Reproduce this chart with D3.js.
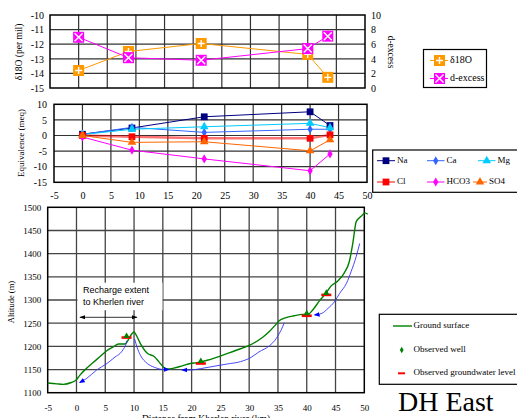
<!DOCTYPE html>
<html><head><meta charset="utf-8">
<script src="https://cdn.jsdelivr.net/npm/d3@7"></script>
<style>
body{margin:0;background:#fff}
svg{display:block}
text{fill:#000}
</style>
</head><body>
<svg id="c" width="517" height="418" font-family="Liberation Serif, Times New Roman, serif"></svg>
<script>
// ---------- DATA ----------
const isoDist = [0, 8.7, 21.4, 40, 43.5];
const d18O = [-13.8, -12.5, -11.95, -12.7, -14.27];
const dExcess = [6.95, 4.15, 3.8, 5.4, 7.1];

const chemDist = [0, 8.7, 21.4, 40, 43.5];
const Na = [0.4, 2.4, 6.0, 7.6, 3.2];
const Ca = [0.4, 2.6, 1.0, 2.0, 2.0];
const Mg = [0.3, 2.0, 2.8, 3.9, 2.5];
const Cl = [0, -0.4, -0.9, -0.9, 0.2];
const HCO3 = [-0.5, -4.7, -7.5, -11.3, -5.9];
const SO4 = [0, -2.2, -2.0, -4.9, -1.4];

const groundDist = [-5, -3.4, -2.3, -0.9, -0.1, 0.6, 1.7, 2.9, 4.1, 5.2, 6.4, 7.3, 8.4, 9.0, 9.3, 10, 10.2, 11.1, 12.3, 13.5, 14.3, 15.2, 15.8, 16.9, 18.4, 19.8, 21.0, 22.7, 25.0, 27.4, 30.0, 32.3, 33.5, 34.7, 35.2, 36.4, 37.8, 39.3, 40.2, 41.0, 42.2, 43.4, 44.2, 45.4, 46.5, 47.4, 48.0, 48.6, 49.5, 50.1, 50.6];
const groundAlt = [1121, 1119, 1118, 1122, 1127, 1138, 1152, 1165, 1178, 1190, 1199, 1205, 1205, 1214, 1221, 1231, 1228, 1206, 1185, 1178, 1167, 1154, 1151, 1153, 1158, 1163, 1165, 1170, 1179, 1190, 1202, 1219, 1232, 1248, 1255, 1262, 1266, 1269, 1269, 1278, 1298, 1316, 1330, 1341, 1358, 1383, 1422, 1469, 1481, 1488, 1485];

const gw1Dist = [0.6, 1.8, 3.5, 5.3, 6.7, 7.6, 8.2, 8.6, 8.75];
const gw1Alt = [1122, 1131, 1149, 1163, 1177, 1185, 1195, 1205, 1212];
const gw2Dist = [10.1, 10.5, 11.1, 12.3, 13.5, 15.2, 16.0];
const gw2Alt = [1216, 1199, 1181, 1163, 1155, 1150, 1150];
const gw3Dist = [18.4, 19.8, 21.6, 23.9, 26.2, 28.5, 30.3, 31.7, 33.5, 34.7, 35.8, 36.1];
const gw3Alt = [1149, 1149, 1152, 1157, 1162, 1167, 1176, 1188, 1201, 1217, 1242, 1251];
const gw4Dist = [41.4, 42.6, 43.7, 44.8, 45.7, 46.9, 47.7, 48.6, 49.2];
const gw4Alt = [1268, 1271, 1282, 1296, 1314, 1336, 1361, 1394, 1422];

const wellDist = [8.7, 21.6, 40, 43.4];
const wellAlt = [1222, 1168, 1271, 1315];
const gwlAlt = [1219, 1163, 1266, 1311];

const isoTicksL = [-15, -14, -13, -12, -11, -10];
const isoTicksR = [0, 2, 4, 6, 8, 10];
const chemTicksY = [-15, -10, -5, 0, 5, 10];
const distTicks = [-5, 0, 5, 10, 15, 20, 25, 30, 35, 40, 45, 50];
const altTicks = [1100, 1150, 1200, 1250, 1300, 1350, 1400, 1450, 1500];

// ---------- HELPERS ----------
const svg = d3.select("#c");
const SERIF = "Liberation Serif, Times New Roman, serif";
const SANS = "Liberation Sans, Arial, sans-serif";
const fmt = d => String(d);
function grid(g, xs, ys, x, y, col, w) {
  const x0 = x.range()[0], x1 = x.range()[1], y0 = y.range()[0], y1 = y.range()[1];
  g.selectAll(null).data(xs).join("line")
    .attr("x1", d => x(d)).attr("x2", d => x(d)).attr("y1", y0).attr("y2", y1)
    .attr("stroke", col).attr("stroke-width", w);
  g.selectAll(null).data(ys).join("line")
    .attr("y1", d => y(d)).attr("y2", d => y(d)).attr("x1", x0).attr("x2", x1)
    .attr("stroke", col).attr("stroke-width", w);
}
function frame(g, x, y) {
  const [x0, x1] = x.range(), [y0, y1] = y.range();
  g.append("rect").attr("x", x0).attr("y", y1).attr("width", x1 - x0).attr("height", y0 - y1)
    .attr("fill", "none").attr("stroke", "#000").attr("stroke-width", 1.5);
}
function styleAxis(a, size) {
  a.select(".domain").remove();
  a.attr("font-family", SERIF).attr("font-size", size);
  a.selectAll("text").attr("fill", "#000");
}
function marker(g, kind, cx, cy, col) {
  const s = g.append("g").attr("transform", `translate(${cx},${cy})`);
  if (kind === "sqPlus" || kind === "sqX") {
    s.append("rect").attr("x", -5.5).attr("y", -5.5).attr("width", 11).attr("height", 11).attr("fill", col);
    if (kind === "sqPlus") s.append("path").attr("d", "M-3.5,0H3.5M0,-3.5V3.5").attr("stroke", "#fff").attr("stroke-width", 1.4);
    else s.append("path").attr("d", "M-4,-4L4,4M-4,4L4,-4").attr("stroke", "#fff").attr("stroke-width", 1.4);
  } else {
    const map = {square: d3.symbolSquare, diamond: d3.symbolDiamond, triangle: d3.symbolTriangle};
    const sizes = {square: 46, diamond: 24, triangle: 32};
    s.append("path").attr("d", d3.symbol(map[kind], sizes[kind])()).attr("fill", col);
  }
}

// ---------- TOP: isotopes ----------
const tx = d3.scaleLinear().domain([-5, 50]).range([50, 365]);
const tyL = d3.scaleLinear().domain([-15, -10]).range([88, 15]);
const tyR = d3.scaleLinear().domain([0, 10]).range([88, 15]);
const gTop = svg.append("g");
grid(gTop, d3.range(0, 50, 5), [-14, -13, -12, -11], tx, tyL, "#333", 1.2);
frame(gTop, tx, tyL);
styleAxis(gTop.append("g").attr("transform", "translate(50,0)")
  .call(d3.axisLeft(tyL).tickValues(isoTicksL).tickSize(0).tickPadding(6).tickFormat(fmt)), "10px");
styleAxis(gTop.append("g").attr("transform", "translate(365,0)")
  .call(d3.axisRight(tyR).tickValues(isoTicksR).tickSize(0).tickPadding(6).tickFormat(fmt)), "10px");
gTop.append("text").attr("transform", "translate(20,52) rotate(-90)").attr("text-anchor", "middle")
  .attr("dominant-baseline", "middle").attr("font-size", "9.5px").text("δ18O (per mil)");
gTop.append("text").attr("transform", "translate(390,52) rotate(90)").attr("text-anchor", "middle")
  .attr("dominant-baseline", "middle").attr("font-size", "9.5px").text("d-excess");
const isoLine = (ys, sc) => d3.line().x((d, i) => tx(isoDist[i])).y((d, i) => sc(ys[i]))(ys);
gTop.append("path").attr("d", isoLine(d18O, tyL)).attr("fill", "none").attr("stroke", "#ff9900").attr("stroke-width", 1);
gTop.append("path").attr("d", isoLine(dExcess, tyR)).attr("fill", "none").attr("stroke", "#ff00ff").attr("stroke-width", 1);
d18O.forEach((v, i) => marker(gTop, "sqPlus", tx(isoDist[i]), tyL(v), "#ff9900"));
dExcess.forEach((v, i) => marker(gTop, "sqX", tx(isoDist[i]), tyR(v), "#ff00ff"));
// legend
const lgT = svg.append("g");
lgT.append("rect").attr("x", 423.5).attr("y", 49.5).attr("width", 63).attr("height", 38)
  .attr("fill", "#fff").attr("stroke", "#000").attr("stroke-width", 1.2);
[["δ18O", "#ff9900", "sqPlus", 60.5], ["d-excess", "#ff00ff", "sqX", 78.5]].forEach(([t, c, k, y]) => {
  lgT.append("line").attr("x1", 430).attr("x2", 448).attr("y1", y).attr("y2", y).attr("stroke", c);
  marker(lgT, k, 439.5, y, c);
  lgT.append("text").attr("x", 450).attr("y", y).attr("dominant-baseline", "middle").attr("font-size", "10px").text(t);
});

// ---------- MIDDLE: chemistry ----------
const mx = d3.scaleLinear().domain([-5, 50]).range([54, 367]);
const my = d3.scaleLinear().domain([-15, 10]).range([182.3, 104.3]);
const gMid = svg.append("g");
grid(gMid, d3.range(0, 50, 5), [-10, -5, 0, 5], mx, my, "#333", 1.2);
frame(gMid, mx, my);
styleAxis(gMid.append("g").attr("transform", "translate(54,0)")
  .call(d3.axisLeft(my).tickValues(chemTicksY).tickSize(0).tickPadding(7).tickFormat(fmt)), "10px");
styleAxis(gMid.append("g").attr("transform", "translate(0,182.3)")
  .call(d3.axisBottom(mx).tickValues(distTicks).tickSize(0).tickPadding(10).tickFormat(fmt)), "10px");
gMid.append("text").attr("transform", "translate(22,143) rotate(-90)").attr("text-anchor", "middle")
  .attr("dominant-baseline", "middle").attr("font-size", "9px").text("Equivalence (meq)");
const chem = [
  {name: "Na", vals: Na, col: "#000080", kind: "square", w: 1},
  {name: "Ca", vals: Ca, col: "#3366ff", kind: "diamond", w: 1},
  {name: "Mg", vals: Mg, col: "#00ccff", kind: "triangle", w: 1},
  {name: "Cl", vals: Cl, col: "#ff0000", kind: "square", w: 2.5},
  {name: "HCO3", vals: HCO3, col: "#ff00ff", kind: "diamond", w: 1},
  {name: "SO4", vals: SO4, col: "#ff6600", kind: "triangle", w: 1}
];
chem.forEach(s => {
  gMid.append("path").attr("d", d3.line().x((d, i) => mx(chemDist[i])).y(d => my(d))(s.vals))
    .attr("fill", "none").attr("stroke", s.col).attr("stroke-width", s.w).attr("stroke-opacity", s.name === "Cl" ? 0.55 : 1);
});
chem.forEach(s => s.vals.forEach((v, i) => marker(gMid, s.kind, mx(chemDist[i]), my(v), s.col)));
// legend
const lgM = svg.append("g");
lgM.append("rect").attr("x", 372.7).attr("y", 150).attr("width", 150).attr("height", 42.3)
  .attr("fill", "#fff").attr("stroke", "#000").attr("stroke-width", 1.2);
const legPos = [[377, 397, 160.7], [427, 446.5, 160.7], [478, 497.5, 160.7], [377, 397, 182], [427, 446.5, 182], [473, 489, 182]];
chem.forEach((s, i) => {
  const [x0, tx0, y] = legPos[i];
  lgM.append("line").attr("x1", x0).attr("x2", tx0 - 2).attr("y1", y).attr("y2", y).attr("stroke", s.col).attr("stroke-width", 1);
  marker(lgM, s.kind, (x0 + tx0 - 2) / 2, y, s.col);
  lgM.append("text").attr("x", tx0).attr("y", y).attr("dominant-baseline", "middle").attr("font-size", "9px").text(s.name);
});

// ---------- BOTTOM: profile ----------
const bx = d3.scaleLinear().domain([-5, 50]).range([47.7, 364.3]);
const by = d3.scaleLinear().domain([1100, 1500]).range([392.7, 207.3]);
const gBot = svg.append("g");
grid(gBot, d3.range(0, 50, 5), d3.range(1150, 1500, 50), bx, by, "#444", 1.3);
// annotation box hides grid
gBot.append("rect").attr("x", 77.5).attr("y", 282.7).attr("width", 85).attr("height", 27.5).attr("fill", "#fff");
frame(gBot, bx, by);
styleAxis(gBot.append("g").attr("transform", "translate(47.7,0)")
  .call(d3.axisLeft(by).tickValues(altTicks).tickSize(0).tickPadding(6.5).tickFormat(fmt)), "9px");
styleAxis(gBot.append("g").attr("transform", "translate(0,392.7)")
  .call(d3.axisBottom(bx).tickValues(distTicks).tickSize(0).tickPadding(12).tickFormat(fmt)), "9px");
gBot.append("text").attr("transform", "translate(12,302) rotate(-90)").attr("text-anchor", "middle")
  .attr("dominant-baseline", "middle").attr("font-size", "8.5px").text("Altitude (m)");
gBot.append("text").attr("x", 206).attr("y", 422).attr("text-anchor", "middle").attr("font-size", "9.5px")
  .text("Distance from Kherlen river (km)");

const defs = svg.append("defs");
defs.append("marker").attr("id", "ab").attr("viewBox", "0 0 10 10").attr("refX", 8).attr("refY", 5)
  .attr("markerWidth", 6).attr("markerHeight", 6).attr("markerUnits", "userSpaceOnUse").attr("orient", "auto-start-reverse")
  .append("path").attr("d", "M0,1L10,5L0,9Z").attr("fill", "#0000ff");
defs.append("marker").attr("id", "ak").attr("viewBox", "0 0 10 10").attr("refX", 9).attr("refY", 5)
  .attr("markerWidth", 6).attr("markerHeight", 6).attr("markerUnits", "userSpaceOnUse").attr("orient", "auto-start-reverse")
  .append("path").attr("d", "M0,1.5L10,5L0,8.5Z").attr("fill", "#000");

const pline = (xs, ys) => d3.line().curve(d3.curveMonotoneX).x((d, i) => bx(xs[i])).y((d, i) => by(ys[i]))(xs);
gBot.append("path").attr("d", pline(groundDist, groundAlt)).attr("fill", "none").attr("stroke", "#008000").attr("stroke-width", 1.4);
[[gw1Dist, gw1Alt, "start"], [gw2Dist, gw2Alt, "end"], [gw3Dist, gw3Alt, "start"], [gw4Dist, gw4Alt, "start"]].forEach(([xs, ys, m]) => {
  const p = gBot.append("path").attr("d", pline(xs, ys)).attr("fill", "none").attr("stroke", "#3333ff").attr("stroke-width", 0.9);
  p.attr(m === "start" ? "marker-start" : "marker-end", "url(#ab)");
});
wellDist.forEach((d, i) => {
  gBot.append("rect").attr("x", bx(d) - 5).attr("y", by(gwlAlt[i]) - 1.3).attr("width", 10).attr("height", 2.6).attr("fill", "#ff0000");
  gBot.append("path").attr("transform", `translate(${bx(d)},${by(wellAlt[i])})`)
    .attr("d", d3.symbol(d3.symbolTriangle, 18)()).attr("fill", "#008000");
});
// annotation
gBot.append("text").attr("x", 83).attr("y", 293).attr("font-family", SANS).attr("font-size", "9px").text("Recharge extent");
gBot.append("text").attr("x", 83).attr("y", 304.5).attr("font-family", SANS).attr("font-size", "9px").text("to Kherlen river");
gBot.append("line").attr("x1", bx(0.6)).attr("x2", bx(10.5)).attr("y1", 317.3).attr("y2", 317.3)
  .attr("stroke", "#000").attr("stroke-width", 0.8).attr("marker-start", "url(#ak)").attr("marker-end", "url(#ak)");

// legend bottom
const lgB = svg.append("g");
lgB.append("rect").attr("x", 379.3).attr("y", 314.3).attr("width", 145).attr("height", 70)
  .attr("fill", "#fff").attr("stroke", "#000").attr("stroke-width", 1.2);
lgB.append("line").attr("x1", 393).attr("x2", 412).attr("y1", 326).attr("y2", 326).attr("stroke", "#008000").attr("stroke-width", 1.4);
lgB.append("text").attr("x", 413.5).attr("y", 326).attr("dominant-baseline", "middle").attr("font-size", "9px").text("Ground surface");
lgB.append("path").attr("transform", "translate(401.7,350)").attr("d", d3.symbol(d3.symbolDiamond, 12)()).attr("fill", "#008000");
lgB.append("text").attr("x", 413.5).attr("y", 350).attr("dominant-baseline", "middle").attr("font-size", "9px").text("Observed well");
lgB.append("rect").attr("x", 398).attr("y", 372.3).attr("width", 7).attr("height", 2).attr("fill", "#ff0000");
lgB.append("text").attr("x", 413.5).attr("y", 373.3).attr("dominant-baseline", "middle").attr("font-size", "9px").text("Observed groundwater level");

svg.append("text").attr("x", 398).attr("y", 410.5).attr("font-size", "28px").text("DH East");
</script>
</body></html>
